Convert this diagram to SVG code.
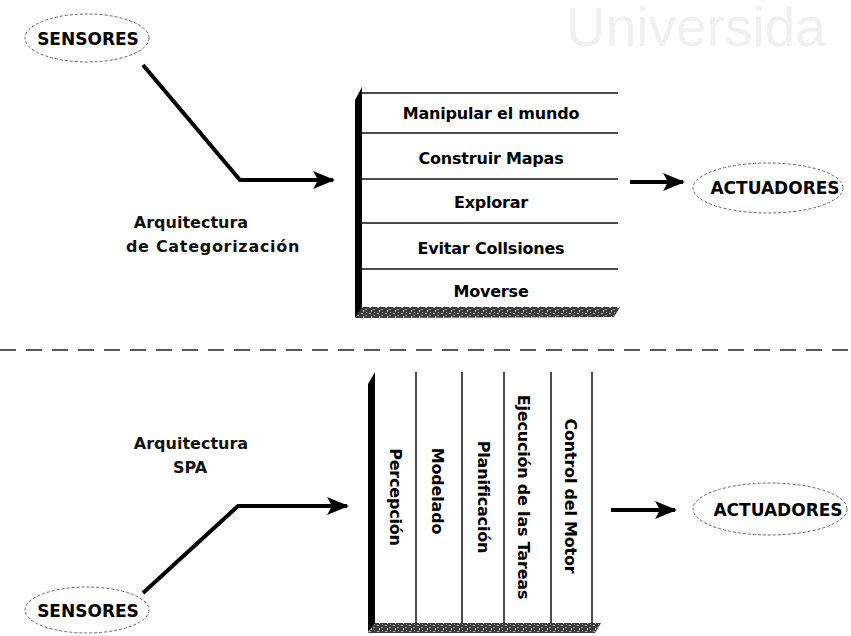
<svg xmlns="http://www.w3.org/2000/svg" width="851" height="636" viewBox="0 0 851 636">
  <defs>
    <marker id="arrow" markerWidth="22" markerHeight="18" refX="20" refY="9" orient="auto" markerUnits="userSpaceOnUse">
      <path d="M0,0 L22,9 L0,18 L5,9 Z" fill="#000"/>
    </marker>
    <pattern id="grain" width="8" height="6" patternUnits="userSpaceOnUse">
      <rect width="8" height="6" fill="#3a3a3a"/>
      <rect x="1" y="1" width="2" height="1" fill="#bbb"/>
      <rect x="5" y="3" width="2" height="1" fill="#999"/>
      <rect x="3" y="4" width="1" height="2" fill="#ccc"/>
      <rect x="6" y="0" width="1" height="1" fill="#aaa"/>
    </pattern>
  </defs>
  <style>
    .ell { fill: none; stroke: #666; stroke-width: 1; stroke-dasharray: 3 2; }
    .term { font-family: "DejaVu Sans", "Liberation Sans", sans-serif; font-weight: bold; font-size: 17px; text-anchor: middle; fill: #000; }
    .lbl { font-family: "DejaVu Sans", "Liberation Sans", sans-serif; font-weight: bold; font-size: 16px; text-anchor: middle; fill: #111; }
    .layer { font-family: "DejaVu Sans", "Liberation Sans", sans-serif; font-weight: bold; font-size: 16px; text-anchor: middle; fill: #000; letter-spacing: -0.2px; }
    .sep { stroke: #111; stroke-width: 1.5; }
    .bar { fill: #000; }
    .conn { fill: none; stroke: #000; stroke-width: 4; stroke-linejoin: miter; }
    .divider { stroke: #222; stroke-width: 1.3; stroke-dasharray: 16 10; }
  </style>

  <!-- faint background lettering -->
  <text x="566" y="46" font-family="Liberation Sans, Arial, sans-serif" font-size="55" fill="#f0f0f0">Universida</text>

  <!-- section divider -->
  <line class="divider" x1="0" y1="350" x2="851" y2="350"/>

  <!-- upper section: categorization architecture -->
  <g id="sensores-top">
    <ellipse class="ell" cx="87" cy="38" rx="62" ry="24"/>
    <text class="term" x="88" y="45">SENSORES</text>
  </g>

  <g id="label-categorizacion">
    <text class="lbl" x="191" y="228">Arquitectura</text>
    <text class="lbl" x="213" y="252" font-size="17" letter-spacing="0.7">de Categorización</text>
  </g>

  <g id="stack-categorizacion">
    <polygon class="bar" points="355,100 362,87 362,316 355,318"/>
    <polygon points="355,318 362,307 620,307 614,317" fill="url(#grain)"/>
    <line class="sep" x1="362" y1="93" x2="618" y2="93"/>
    <line class="sep" x1="362" y1="133" x2="618" y2="133"/>
    <line class="sep" x1="362" y1="179" x2="618" y2="179"/>
    <line class="sep" x1="362" y1="223" x2="618" y2="223"/>
    <line class="sep" x1="362" y1="269" x2="618" y2="269"/>
    <text class="layer" x="491" y="119">Manipular el mundo</text>
    <text class="layer" x="491" y="164">Construir Mapas</text>
    <text class="layer" x="491" y="208">Explorar</text>
    <text class="layer" x="491" y="254">Evitar Collsiones</text>
    <text class="layer" x="491" y="297">Moverse</text>
  </g>

  <g id="actuadores-top">
    <ellipse class="ell" cx="768" cy="188" rx="75" ry="25"/>
    <text class="term" x="775" y="194">ACTUADORES</text>
  </g>

  <!-- lower section: SPA architecture -->
  <g id="label-spa">
    <text class="lbl" x="191" y="449">Arquitectura</text>
    <text class="lbl" x="190" y="473">SPA</text>
  </g>

  <g id="stack-spa">
    <polygon class="bar" points="368,384 375,372 375,624 368,632"/>
    <polygon points="368,633 375,623 601,623 595,633" fill="url(#grain)"/>
    <line class="sep" x1="416" y1="372" x2="416" y2="623"/>
    <line class="sep" x1="462" y1="372" x2="462" y2="623"/>
    <line class="sep" x1="504" y1="372" x2="504" y2="623"/>
    <line class="sep" x1="551" y1="372" x2="551" y2="623"/>
    <line class="sep" x1="592" y1="372" x2="592" y2="623"/>
    <text class="layer" transform="translate(390,497) rotate(90)">Percepción</text>
    <text class="layer" transform="translate(432,491) rotate(90)">Modelado</text>
    <text class="layer" transform="translate(478,497) rotate(90)">Planificación</text>
    <text class="layer" transform="translate(518,497) rotate(90)">Ejecución de las Tareas</text>
    <text class="layer" transform="translate(565,496) rotate(90)">Control del Motor</text>
  </g>

  <g id="actuadores-bottom">
    <ellipse class="ell" cx="770" cy="509" rx="77" ry="26"/>
    <text class="term" x="778" y="516">ACTUADORES</text>
  </g>

  <g id="sensores-bottom">
    <ellipse class="ell" cx="87" cy="610" rx="62" ry="23"/>
    <text class="term" x="88" y="617">SENSORES</text>
  </g>

  <!-- connectors -->
  <g id="connectors">
    <polyline class="conn" points="143,65 240,180 333,180" marker-end="url(#arrow)"/>
    <line class="conn" x1="630" y1="182" x2="683" y2="182" marker-end="url(#arrow)"/>
    <polyline class="conn" points="143,593 238,506 347,506" marker-end="url(#arrow)"/>
    <line class="conn" x1="611" y1="510" x2="675" y2="510" marker-end="url(#arrow)"/>
  </g>
</svg>
